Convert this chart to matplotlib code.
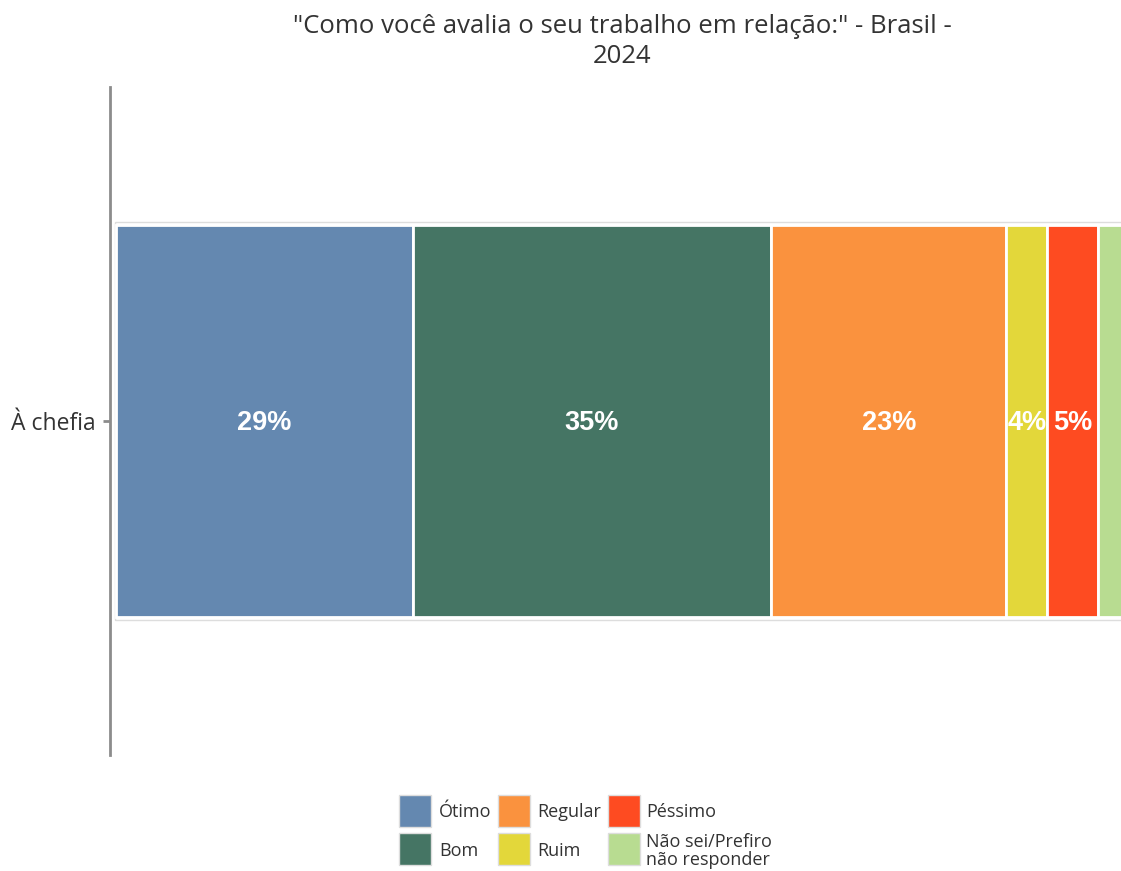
import matplotlib
matplotlib.use("Agg")
import matplotlib.pyplot as plt
from matplotlib.patches import Rectangle

categories = ["À chefia"]
series = ["Ótimo", "Bom", "Regular", "Ruim", "Péssimo", "Não sei/Prefiro\nnão responder"]
values = [29, 35, 23, 4, 5, 4]
labels = ["29%", "35%", "23%", "4%", "5%", ""]
colors = ["#6488B0", "#457564", "#FA923E", "#E3D73A", "#FE4B21", "#B8DC91"]
title = "\"Como você avalia o seu trabalho em relação:\" - Brasil -\n2024"

plt.rcParams['font.family'] = ['Open Sans', 'DejaVu Sans']

W, H = 1121, 871
fig = plt.figure(figsize=(W / 100, H / 100), dpi=100)
ax = fig.add_axes([110 / W, (H - 755) / H, 1 - 110 / W, (755 - 87) / H])

left = 0
for v, c, lab in zip(values, colors, labels):
    ax.barh(categories[0], v, left=left, height=0.587, color=c, edgecolor="white", linewidth=2, zorder=3)
    if lab:
        ax.text(left + v / 2, -0.003, lab, ha="center", va="center", color="white",
                fontsize=19.5, fontweight="bold", family="Liberation Sans", zorder=4)
    left += v
ax.barh(categories[0], left, left=-0.15, height=0.597, facecolor="none", edgecolor="#dddddd", linewidth=1, zorder=2)

ax.set_xlim(-0.6, 98.2)
ax.set_ylim(-0.5, 0.5)
for s in ["top", "right", "bottom"]:
    ax.spines[s].set_visible(False)
ax.spines["left"].set_color("#8c8c8c")
ax.spines["left"].set_linewidth(2)
ax.set_xticks([])
ax.tick_params(axis="y", length=5, width=2, color="#8c8c8c", labelsize=16.5, labelcolor="#333333", pad=5)

fig.text(622 / W, 1 - 14 / H, title, ha="center", va="top", fontsize=18.5, color="#333333", linespacing=1.28)

# legend
col_sq_x = [399, 498, 608]
col_tx_x = [439, 537, 646]
row_sq_y = [795, 833]
row_tx_y = [812, 851]
sq = 32
for i, (name, c) in enumerate(zip(series, colors)):
    col, row = i // 2, i % 2
    x0 = col_sq_x[col]; y0 = row_sq_y[row]
    fig.patches.append(Rectangle((x0 / W, 1 - (y0 + sq) / H), sq / W, sq / H, transform=fig.transFigure,
                                 facecolor=c, edgecolor="#dddddd", linewidth=1))
    fig.text(col_tx_x[col] / W, 1 - row_tx_y[row] / H, name, ha="left", va="center",
             fontsize=13, color="#333333", linespacing=1.05)

fig.savefig("out.png", dpi=100, facecolor="white")
